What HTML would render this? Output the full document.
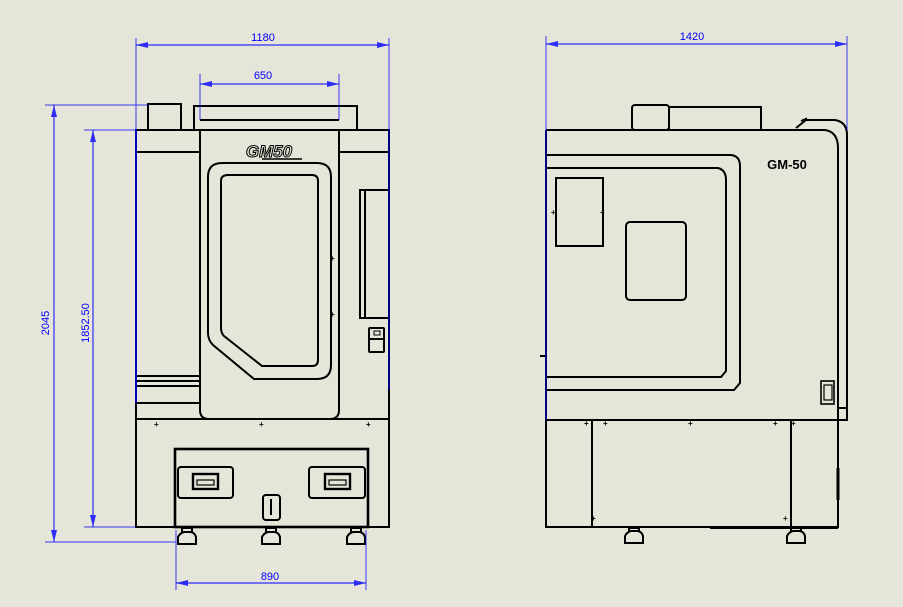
<!DOCTYPE html>
<html><head><meta charset="utf-8"><style>
html,body{margin:0;padding:0;background:#e6e5da;}
svg{display:block;}
text{font-family:"Liberation Sans",sans-serif;}
</style></head><body>
<svg width="903" height="607" viewBox="0 0 903 607" xmlns="http://www.w3.org/2000/svg">
<rect width="903" height="607" fill="#e6e5da"/>
<defs>
<marker id="a" viewBox="0 0 12 6" refX="12" refY="3" markerWidth="12" markerHeight="6" orient="auto-start-reverse" markerUnits="userSpaceOnUse"><path d="M0,0 L12,3 L0,6z" fill="#0000ff"/></marker>
</defs>
<g fill="none" stroke="#000" stroke-width="2">
<!-- FRONT VIEW -->
<rect x="148" y="104" width="33" height="26"/>
<rect x="194" y="106" width="163" height="24"/>
<line x1="200" y1="120" x2="339" y2="120"/>
<rect x="136" y="130" width="253" height="397"/>
<line x1="136" y1="152" x2="200" y2="152"/>
<line x1="339" y1="152" x2="389" y2="152"/>
<path d="M200,130 L200,410 Q200,419 209,419 L330,419 Q339,419 339,410 L339,130"/>
<line x1="136" y1="419" x2="389" y2="419" stroke-width="2"/>
<path d="M222,163 L317,163 Q331,163 331,177 L331,365 Q331,379 317,379 L254,379 L213,345 Q208,340 208,333 L208,177 Q208,163 222,163Z"/>
<path d="M228,175 L312,175 Q318,175 318,181 L318,360 Q318,366 312,366 L262,366 L224,336 Q221,333 221,328 L221,181 Q221,175 228,175Z"/>
<line x1="136" y1="376" x2="200" y2="376"/>
<line x1="136" y1="381" x2="200" y2="381"/>
<line x1="136" y1="386" x2="200" y2="386"/>
<line x1="136" y1="403" x2="200" y2="403"/>
<rect x="360" y="190" width="29" height="128"/>
<line x1="365" y1="190" x2="365" y2="318"/>
<rect x="369" y="328" width="15" height="24" rx="1"/>
<line x1="369" y1="339" x2="384" y2="339"/>
<rect x="374" y="331" width="6" height="4" stroke-width="1"/>
<rect x="175" y="449" width="193" height="78" stroke-width="2.6"/>
<rect x="178" y="467" width="55" height="31" rx="3"/>
<rect x="309" y="467" width="56" height="31" rx="3"/>
<rect x="193" y="474" width="25" height="15" stroke-width="2.4"/>
<rect x="197" y="480" width="17" height="5" stroke-width="1.2"/>
<rect x="325" y="474" width="25" height="15" stroke-width="2.4"/>
<rect x="329" y="480" width="17" height="5" stroke-width="1.2"/>
<rect x="263" y="495" width="17" height="25" rx="3"/>
<line x1="271" y1="499" x2="271" y2="515" stroke-width="2"/>
<g stroke-width="2">
<path d="M178,544 L178,537 Q180,533 184,532 L191,532 Q195,533 196,537 L196,544 Z M182,532 L182,528 L192,528 L192,532"/>
<path d="M262,544 L262,537 Q264,533 268,532 L275,532 Q279,533 280,537 L280,544 Z M266,532 L266,528 L276,528 L276,532"/>
<path d="M347,544 L347,537 Q349,533 353,532 L360,532 Q364,533 365,537 L365,544 Z M351,532 L351,528 L361,528 L361,532"/>
</g>
<!-- SIDE VIEW -->
<rect x="632" y="105" width="37" height="25" rx="3"/>
<rect x="669" y="107" width="92" height="23"/>
<path d="M546,130 L825,130 Q838,132 838,148 L838,420"/>
<path d="M801,121 L806,119 L806,120 L835,120 Q847,122 847,135 L847,420 L838,420"/>
<path d="M796,128 L806,120"/>
<line x1="838" y1="408" x2="847" y2="408"/>
<line x1="546" y1="130" x2="546" y2="527"/>
<path d="M546,155 L731,155 Q740,156 740,166 L740,383 L734,390 L546,390"/>
<path d="M546,168 L718,168 Q726,170 726,180 L726,371 L721,377 L546,377"/>
<rect x="556" y="178" width="47" height="68"/>
<rect x="626" y="222" width="60" height="78" rx="4"/>
<line x1="546" y1="420" x2="838" y2="420" stroke-width="2"/>
<rect x="546" y="420" width="292" height="107"/>
<line x1="592" y1="420" x2="592" y2="527"/>
<line x1="791" y1="420" x2="791" y2="527"/>
<line x1="710" y1="528" x2="838" y2="528" stroke-width="2"/>
<line x1="838" y1="468" x2="838" y2="500" stroke-width="3"/>
<rect x="821" y="381" width="13" height="23" stroke-width="1.6"/>
<rect x="824" y="385" width="8" height="15" stroke-width="1.2"/>
<line x1="546" y1="356" x2="540" y2="356" stroke-width="2"/>
<path d="M625,543 L625,536 Q627,532 631,531 L638,531 Q642,532 643,536 L643,543 Z M629,531 L629,528 L639,528 L639,531"/>
<path d="M787,543 L787,536 Q789,532 793,531 L800,531 Q804,532 805,536 L805,543 Z M791,531 L791,528 L801,528 L801,531"/>
</g>
<g fill="#000" font-size="8" font-weight="bold">
<text x="330" y="261">+</text><text x="330" y="317">+</text>
<text x="154" y="427">+</text><text x="259" y="427">+</text><text x="366" y="427">+</text>
<text x="584" y="426">+</text><text x="603" y="426">+</text><text x="688" y="426">+</text><text x="773" y="426">+</text><text x="791" y="426">+</text>
<text x="591" y="521">+</text><text x="783" y="521">+</text>
<text x="551" y="215">+</text><text x="600" y="215">+</text>
</g>
<text x="269" y="157" font-size="17" font-style="italic" font-weight="bold" fill="none" stroke="#000" stroke-width="1" text-anchor="middle">GM50</text>
<line x1="262" y1="159" x2="302" y2="159" stroke="#000" stroke-width="1.6"/>
<text x="787" y="169" font-size="13" font-weight="bold" fill="#000" text-anchor="middle">GM-50</text>
<!-- DIMENSIONS -->
<g stroke="#0000ff" stroke-width="1" fill="none" opacity="0.75">
<line x1="136" y1="38" x2="136" y2="130"/><line x1="389" y1="38" x2="389" y2="130"/>
<line x1="200" y1="74" x2="200" y2="120"/><line x1="339" y1="74" x2="339" y2="120"/>
<line x1="45" y1="105" x2="148" y2="105"/><line x1="45" y1="542" x2="176" y2="542"/>
<line x1="84" y1="130" x2="136" y2="130"/><line x1="84" y1="527" x2="136" y2="527"/>
<line x1="176" y1="530" x2="176" y2="590"/><line x1="366" y1="530" x2="366" y2="590"/>
<line x1="546" y1="36" x2="546" y2="130"/><line x1="847" y1="36" x2="847" y2="130"/>
</g>
<g stroke="#0000ff" stroke-width="1.2" opacity="0.8">
<line x1="136" y1="45" x2="389" y2="45" marker-start="url(#a)" marker-end="url(#a)"/>
<line x1="200" y1="84" x2="339" y2="84" marker-start="url(#a)" marker-end="url(#a)"/>
<line x1="54" y1="105" x2="54" y2="542" marker-start="url(#a)" marker-end="url(#a)"/>
<line x1="93" y1="130" x2="93" y2="527" marker-start="url(#a)" marker-end="url(#a)"/>
<line x1="176" y1="583" x2="366" y2="583" marker-start="url(#a)" marker-end="url(#a)"/>
<line x1="546" y1="44" x2="847" y2="44" marker-start="url(#a)" marker-end="url(#a)"/>
</g>
<line x1="389" y1="130" x2="389" y2="390" stroke="#00008b" stroke-width="1.8"/>
<line x1="136" y1="130" x2="136" y2="403" stroke="#0000cc" stroke-width="1.8"/>
<line x1="546" y1="130" x2="546" y2="420" stroke="#00008b" stroke-width="1.8"/>
<g fill="#0000ff" font-size="11">
<text x="263" y="41" text-anchor="middle">1180</text>
<text x="263" y="79" text-anchor="middle">650</text>
<text x="692" y="40" text-anchor="middle">1420</text>
<text x="270" y="580" text-anchor="middle">890</text>
<text transform="translate(49,323) rotate(-90)" text-anchor="middle">2045</text>
<text transform="translate(89,323) rotate(-90)" text-anchor="middle">1852.50</text>
</g>
</svg>
</body></html>
